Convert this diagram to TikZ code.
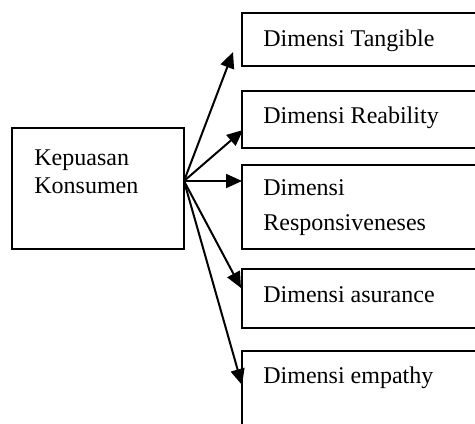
\documentclass[tikz,border=0pt]{standalone}
\usepackage{fontspec}
\setmainfont{Liberation Serif}
\usetikzlibrary{arrows.meta}
\begin{document}
\begin{tikzpicture}[x=0.5pt,y=-0.5pt,
  boxnode/.style={draw,line width=1pt,anchor=north west,inner sep=0pt,outer sep=0pt},
  lbl/.style={anchor=base west,inner sep=0pt,font=\fontsize{12}{14}\selectfont},
  arr/.style={line width=1pt,-{Triangle[length=8pt,width=7pt]}}]
\useasboundingbox (0,0) rectangle (475,423);
\clip (0,0) rectangle (475,423);
\fill[white] (0,0) rectangle (475,423);
% left box
\node[boxnode,minimum width=86pt,minimum height=60.5pt] (k) at (12,128) {};
\node[lbl] (k1) at (34,165) {Kepuasan};
\node[lbl] (k2) at (34,193) {Konsumen};
% right boxes
\node[boxnode,minimum width=130pt,minimum height=26.5pt] (b1) at (242,13) {};
\node[boxnode,minimum width=130pt,minimum height=28.5pt] (b2) at (242,91) {};
\node[boxnode,minimum width=130pt,minimum height=42pt] (b3) at (242,165) {};
\node[boxnode,minimum width=130pt,minimum height=29.5pt] (b4) at (242,269) {};
\node[boxnode,minimum width=130pt,minimum height=50pt] (b5) at (242,351) {};
\node[lbl] (t1) at (263,46.5) {Dimensi Tangible};
\node[lbl] (t2) at (263,123) {Dimensi Reability};
\node[lbl] (t3a) at (263,195) {Dimensi};
\node[lbl] (t3b) at (263,230) {Responsiveneses};
\node[lbl] (t4) at (263,302) {Dimensi asurance};
\node[lbl] (t5) at (263,383) {Dimensi empathy};
% arrows
\coordinate (o) at (184,181);
\coordinate (e1) at (233,52);
\coordinate (e2) at (243,130);
\coordinate (e3) at (242,181);
\coordinate (e4) at (241,288);
\coordinate (e5) at (242,385);
\foreach \e in {e1,e2,e3,e4,e5}{\draw[arr] (o) -- (\e);}
\end{tikzpicture}
\end{document}
